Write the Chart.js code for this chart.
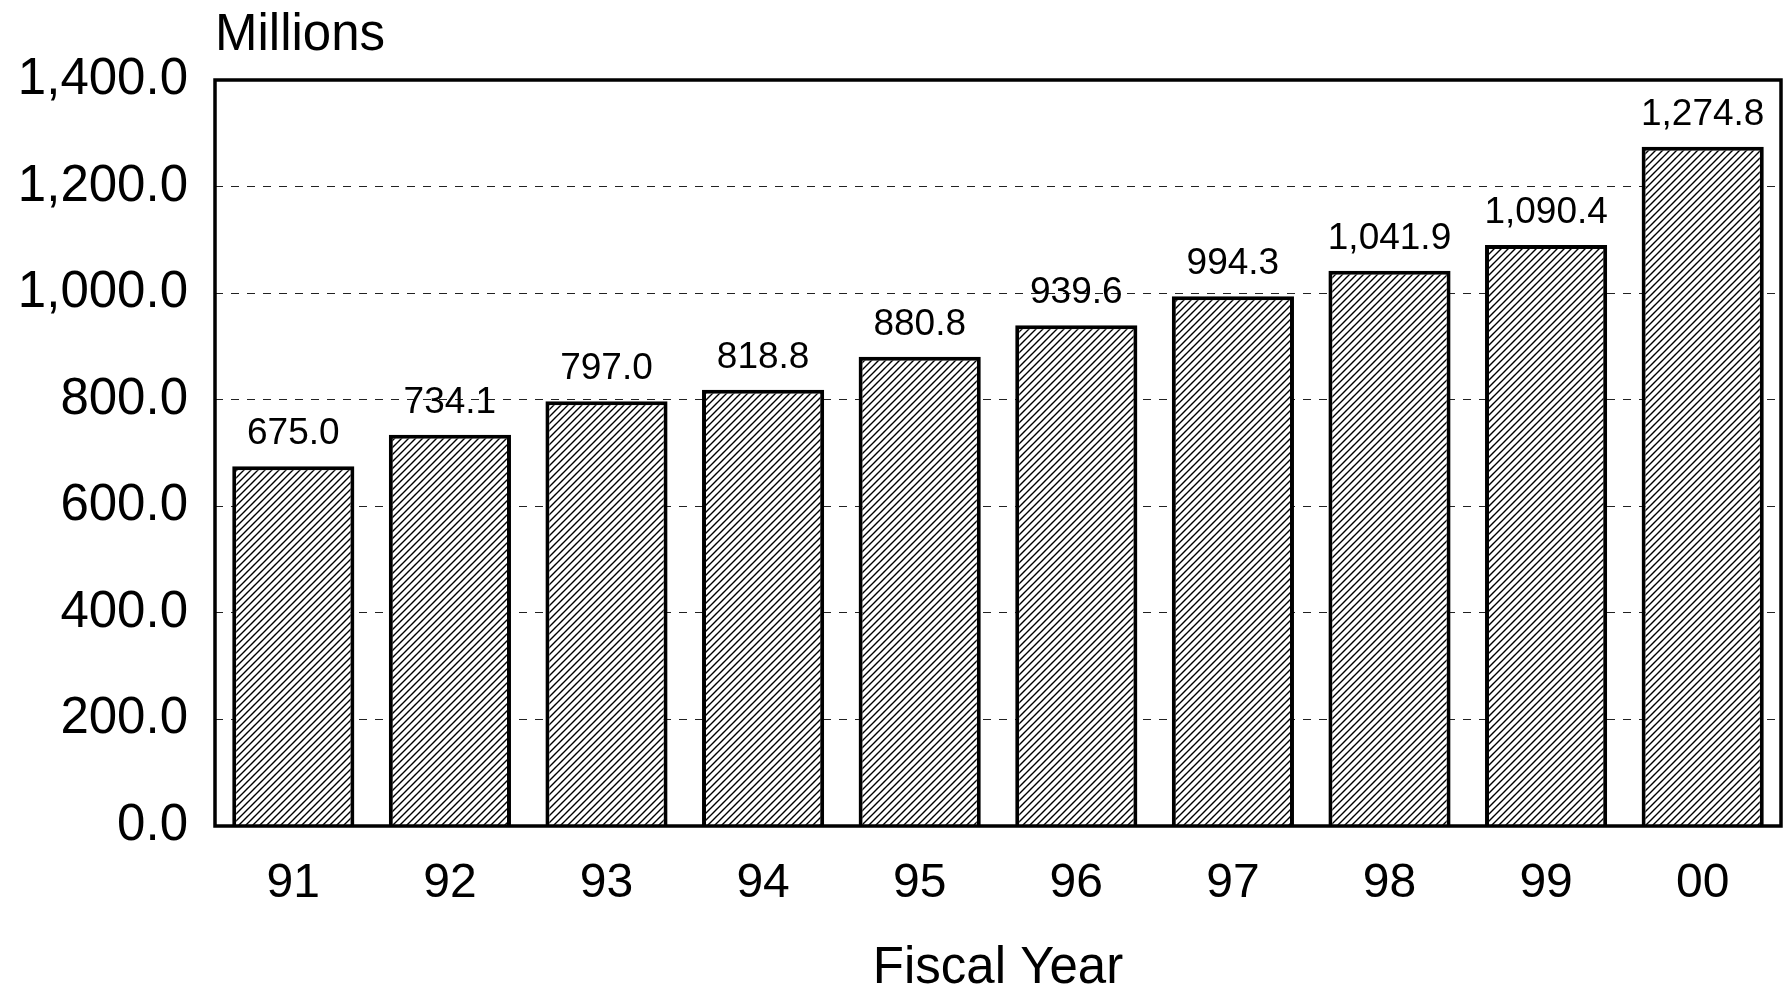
<!DOCTYPE html>
<html>
<head>
<meta charset="utf-8">
<title>Fiscal Year Millions</title>
<script src="https://cdn.jsdelivr.net/npm/chart.js@4/dist/chart.umd.min.js"></script>
<style>
    body { margin: 0; background: #fff; }
    canvas { display: block; }
</style>
</head>
<body>
<canvas id="fyChart" width="1788" height="989"></canvas>
<script>
const years = ['91', '92', '93', '94', '95', '96', '97', '98', '99', '00'];
const amounts = [675.0, 734.1, 797.0, 818.8, 880.8, 939.6, 994.3, 1041.9, 1090.4, 1274.8];
const yTicks = [0, 200, 400, 600, 800, 1000, 1200, 1400];

const FONT = "'Liberation Sans', Arial, sans-serif";

document.addEventListener('DOMContentLoaded', () => {
    // hatch fill "////" like the scanned bars
    function makeHatch() {
        const s = 7;
        const c = document.createElement('canvas');
        c.width = s;
        c.height = s;
        const g = c.getContext('2d');
        g.fillStyle = '#fff';
        g.fillRect(0, 0, s, s);
        g.strokeStyle = '#000';
        g.lineWidth = 1.4;
        g.beginPath();
        g.moveTo(0, s); g.lineTo(s, 0);
        g.moveTo(-1, 1); g.lineTo(1, -1);
        g.moveTo(s - 1, s + 1); g.lineTo(s + 1, s - 1);
        g.stroke();
        return g.createPattern(c, 'repeat');
    }

    const fmt = (v) => v.toLocaleString('en-US', { minimumFractionDigits: 1, maximumFractionDigits: 1 });

    // value labels above the bars + the box around the plot
    const barLabels = {
        id: 'barLabels',
        afterDatasetsDraw(chart) {
            const { ctx, chartArea } = chart;
            const meta = chart.getDatasetMeta(0);
            ctx.save();
            ctx.fillStyle = '#000';
            ctx.font = `37px ${FONT}`;
            ctx.textAlign = 'center';
            ctx.textBaseline = 'alphabetic';
            meta.data.forEach((bar, i) => {
                ctx.fillText(fmt(amounts[i]), bar.x, bar.y - 22);
            });
            ctx.strokeStyle = '#000';
            ctx.lineWidth = 3.5;
            ctx.strokeRect(chartArea.left, chartArea.top, chartArea.right - chartArea.left, chartArea.bottom - chartArea.top);
            ctx.restore();
        }
    };

    new Chart(document.getElementById('fyChart'), {
        type: 'bar',
        data: {
            labels: years,
            datasets: [{
                data: amounts,
                backgroundColor: makeHatch(),
                borderColor: '#000',
                borderWidth: 4,
                barPercentage: 0.78,
                categoryPercentage: 1.0
            }]
        },
        options: {
            responsive: false,
            animation: false,
            layout: { padding: { left: 0, right: 7, top: 0, bottom: 0 } },
            plugins: {
                legend: { display: false },
                tooltip: { enabled: false },
                title: {
                    display: true,
                    text: 'Millions',
                    align: 'start',
                    fullSize: false,
                    color: '#000',
                    font: { family: FONT, size: 51, weight: 'normal', lineHeight: 1 },
                    padding: { top: 10, bottom: 19 }
                }
            },
            scales: {
                x: {
                    grid: { display: false, drawTicks: false },
                    border: { display: false },
                    ticks: { color: '#000', padding: 29, font: { family: FONT, size: 48 } },
                    title: {
                        display: true,
                        text: 'Fiscal Year',
                        color: '#000',
                        font: { family: FONT, size: 51, lineHeight: 0.8 },
                        padding: { top: 0, bottom: 0 }
                    },
                    afterFit: (scale) => { scale.height = 163; }
                },
                y: {
                    min: 0,
                    max: 1400,
                    afterBuildTicks: (scale) => { scale.ticks = yTicks.map(v => ({ value: v })); },
                    grid: { color: '#222', lineWidth: 1, drawTicks: false },
                    border: { display: false, dash: [8, 8] },
                    ticks: {
                        color: '#000',
                        padding: 27,
                        font: { family: FONT, size: 51 },
                        callback: (value) => fmt(value)
                    },
                    afterFit: (scale) => { scale.width = 215; }
                }
            }
        },
        plugins: [barLabels]
    });
});
</script>
</body>
</html>
